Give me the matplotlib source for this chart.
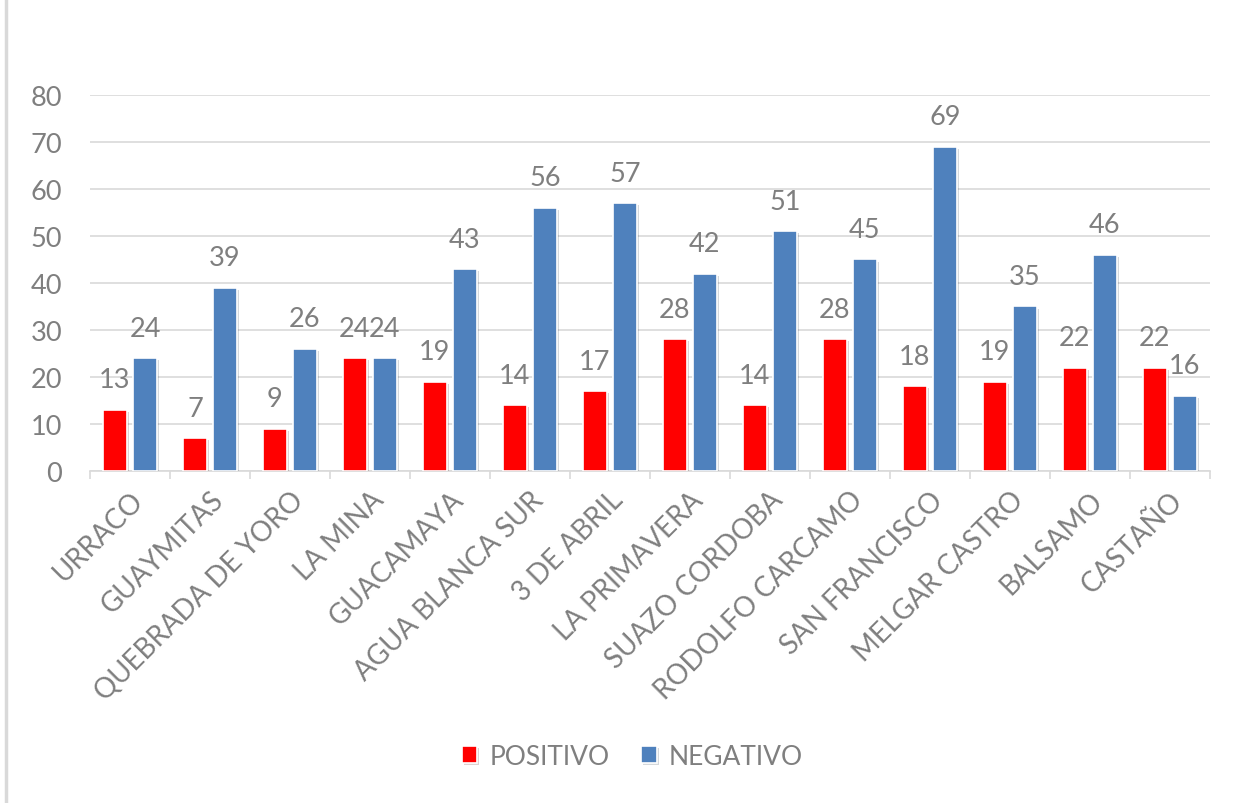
import matplotlib
matplotlib.use("Agg")
import matplotlib.pyplot as plt
import matplotlib.patheffects as pe
from matplotlib.lines import Line2D
import numpy as np

categories = ["URRACO", "GUAYMITAS", "QUEBRADA DE YORO", "LA MINA", "GUACAMAYA",
              "AGUA BLANCA SUR", "3 DE ABRIL", "LA PRIMAVERA", "SUAZO CORDOBA",
              "RODOLFO CARCAMO", "SAN FRANCISCO", "MELGAR CASTRO", "BALSAMO", "CASTAÑO"]
positivo = [13, 7, 9, 24, 19, 14, 17, 28, 14, 28, 18, 19, 22, 22]
negativo = [24, 39, 26, 24, 43, 56, 57, 42, 51, 45, 69, 35, 46, 16]
series_names = ["POSITIVO", "NEGATIVO"]
yticks = [0, 10, 20, 30, 40, 50, 60, 70, 80]

plt.rcParams['font.family'] = ['Lato', 'DejaVu Sans']
gray = "#7F7F7F"
grid = "#D9D9D9"

fig = plt.figure(figsize=(12.42, 8.04), dpi=100)
ax = fig.add_axes([0.0725, 0.413, 0.9015, 0.4676])

x = np.arange(len(categories))
w = 0.30
off = 0.1875
shadow = [pe.SimplePatchShadow(offset=(1.5, -1.5), alpha=0.18), pe.Normal()]
b1 = ax.bar(x - off, positivo, w, color="#FF0000", edgecolor="white", linewidth=1.2,
            label=series_names[0], zorder=3, path_effects=shadow)
b2 = ax.bar(x + off, negativo, w, color="#4F81BD", edgecolor="white", linewidth=1.2,
            label=series_names[1], zorder=3, path_effects=shadow)

for bars, vals in ((b1, positivo), (b2, negativo)):
    for r, v in zip(bars, vals):
        ax.annotate(str(v), (r.get_x() + r.get_width() / 2, v), xytext=(0, 12.5),
                    textcoords="offset points", ha="center", va="bottom",
                    fontsize=19.5, color=gray, zorder=4)

ax.set_xlim(-0.5, len(categories) - 0.5)
ax.set_ylim(0, 80)
ax.set_yticks(yticks)
ax.set_yticklabels([str(t) for t in yticks], fontsize=19.5, color=gray)
ax.yaxis.grid(True, color=grid, linewidth=1.2, zorder=0)
ax.set_axisbelow(True)
ax.tick_params(axis='y', length=0, pad=20)

ax.set_xticks(x)
ax.set_xticklabels(categories, rotation=45, ha="right", rotation_mode="anchor",
                   fontsize=20, color=gray)
ax.tick_params(axis='x', which='major', length=0, pad=11)
ax.set_xticks(np.arange(-0.5, len(categories), 1.0), minor=True)
ax.tick_params(axis='x', which='minor', length=6, color=grid, width=1.2)

for s in ("top", "right", "left"):
    ax.spines[s].set_visible(False)
ax.spines["bottom"].set_color(grid)
ax.spines["bottom"].set_linewidth(1.2)

leg = fig.legend(handles=[b1, b2], labels=series_names, loc="center",
                 bbox_to_anchor=(0.509, 0.058), ncol=2, frameon=False,
                 fontsize=19, handlelength=0.6, handleheight=0.6,
                 columnspacing=1.2, handletextpad=0.45)
for t in leg.get_texts():
    t.set_color(gray)

fig.add_artist(Line2D([6 / 1242, 6 / 1242], [0, 1], transform=fig.transFigure,
                      color="#D9D9D9", linewidth=2.5))

fig.savefig("out.png", dpi=100)
